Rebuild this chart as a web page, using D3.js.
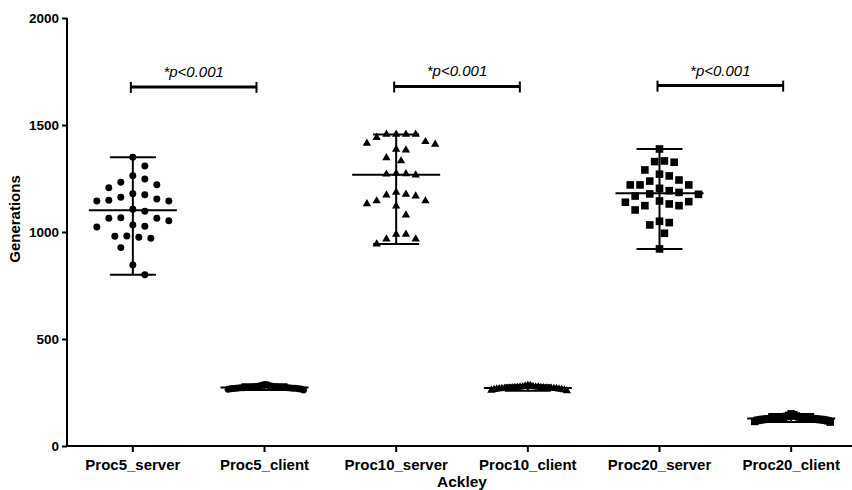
<!DOCTYPE html>
<html>
<body>
    <style>
        body, html { margin: 0; padding: 0; background: #fff; }
        svg { display: block; }
        text { font-family: "Liberation Sans", Arial, sans-serif; fill: #000; }
    </style>

    <svg width="852" height="490"></svg>

    <script src="https://d3js.org/d3.v7.min.js"></script>
    <script>
        // data
        var categories = ["Proc5_server", "Proc5_client", "Proc10_server", "Proc10_client", "Proc20_server", "Proc20_client"];
        var proc5Server = [1349, 1308, 1263, 1248, 1232, 1221, 1207, 1179, 1174, 1162, 1154, 1148, 1145, 1145, 1106,
                           1097, 1067, 1064, 1064, 1053, 1033, 1027, 1023, 981, 980, 975, 971, 927, 846, 800];
        var proc5Client = [262, 265, 266, 268, 268, 269, 270, 270, 270, 271, 271, 272, 272, 272, 273,
                           273, 274, 274, 275, 275, 276, 276, 277, 278, 279, 280, 282, 284, 286, 288];
        var proc10Server = [1456, 1456, 1456, 1456, 1441, 1422, 1414, 1410, 1386, 1383, 1347, 1332, 1274, 1272, 1270,
                            1266, 1185, 1176, 1173, 1168, 1145, 1145, 1132, 1121, 1079, 989, 989, 967, 967, 944];
        var proc10Client = [258, 260, 262, 264, 265, 266, 266, 267, 268, 268, 269, 269, 270, 270, 270,
                            271, 271, 272, 272, 273, 273, 274, 275, 275, 276, 277, 278, 280, 282, 284];
        var proc20Server = [1388, 1332, 1329, 1326, 1290, 1270, 1262, 1243, 1238, 1220, 1220, 1220, 1204, 1193, 1185,
                            1178, 1176, 1168, 1145, 1142, 1139, 1131, 1123, 1123, 1103, 1050, 1044, 1033, 994, 921];
        var proc20Client = [112, 115, 118, 120, 121, 122, 123, 124, 124, 125, 125, 126, 127, 127, 128,
                            128, 129, 130, 130, 131, 132, 133, 134, 135, 136, 138, 140, 143, 146, 150];
        var series = [proc5Server, proc5Client, proc10Server, proc10Client, proc20Server, proc20Client];
        var symbols = [d3.symbolCircle, d3.symbolCircle, d3.symbolTriangle, d3.symbolTriangle, d3.symbolSquare, d3.symbolSquare];
        var symbolSizes = [38, 38, 30, 30, 58, 58];

        var yTicks = [0, 500, 1000, 1500, 2000];
        var comparisons = [["Proc5_server", "Proc5_client"], ["Proc10_server", "Proc10_client"], ["Proc20_server", "Proc20_client"]];
        var compLevels = [1678, 1680, 1684];
        var compLabel = "*p<0.001";

        var svg = d3.select("svg");
        var m = { left: 67, right: 857, top: 18, bottom: 446 };

        var x = d3.scaleBand().domain(categories).range([m.left, m.right]);
        var y = d3.scaleLinear().domain([0, 2000]).range([m.bottom, m.top]);
        var cx = function (c) { return x(c) + x.bandwidth() / 2; };

        // axes
        var yAxis = svg.append("g")
            .attr("transform", "translate(" + m.left + ",0)")
            .call(d3.axisLeft(y).tickValues(yTicks).tickFormat(d3.format("d")).tickSize(5).tickPadding(3));
        var xAxis = svg.append("g")
            .attr("transform", "translate(0," + m.bottom + ")")
            .call(d3.axisBottom(x).tickSize(6).tickPadding(4));

        [yAxis, xAxis].forEach(function (g) {
            g.select(".domain").attr("stroke", "#000").attr("stroke-width", 2);
            g.selectAll(".tick line").attr("stroke", "#000").attr("stroke-width", 2);
            g.selectAll("text").attr("font-family", "Liberation Sans, Arial, sans-serif")
                .attr("font-weight", "bold").attr("fill", "#000");
        });
        yAxis.selectAll("text").attr("font-size", 13.5);
        xAxis.selectAll("text").attr("font-size", 15).attr("dy", "0.9em");
        xAxis.select(".domain").attr("d", "M" + m.left + ",0H" + m.right);
        yAxis.select(".domain").attr("d", "M0," + y(2000) + "V" + m.bottom);

        svg.append("text")
            .attr("transform", "translate(20,219) rotate(-90)")
            .attr("text-anchor", "middle")
            .attr("font-weight", "bold").attr("font-size", 15)
            .text("Generations");

        svg.append("text")
            .attr("x", (m.left + m.right) / 2).attr("y", 487)
            .attr("text-anchor", "middle")
            .attr("font-weight", "bold").attr("font-size", 15.5)
            .text("Ackley");

        // simple swarm layout: points pushed sideways until they no longer touch
        function swarm(values, step, dist, maxHalf) {
            var pts = values.map(function (v) { return { v: v, py: y(v), dx: 0 }; })
                .sort(function (a, b) { return a.py - b.py; });
            var placed = [];
            pts.forEach(function (p) {
                for (var k = 0; k < 200; k++) {
                    var off = (k % 2 ? 1 : -1) * Math.ceil(k / 2) * step;
                    var ok = placed.every(function (q) {
                        var ddx = q.dx - off, ddy = q.py - p.py;
                        return ddx * ddx + ddy * ddy >= dist * dist;
                    });
                    if (ok) { p.dx = off; break; }
                }
                placed.push(p);
            });
            var mx = d3.max(pts, function (p) { return Math.abs(p.dx); });
            if (mx > maxHalf) pts.forEach(function (p) { p.dx = p.dx * maxHalf / mx; });
            return pts;
        }

        var groups = svg.append("g").selectAll("g")
            .data(categories)
            .join("g")
            .attr("transform", function (c) { return "translate(" + cx(c) + ",0)"; });

        groups.each(function (c, i) {
            var g = d3.select(this);
            var vals = series[i];
            var pts = swarm(vals, 6, 12, 39);
            var sym = d3.symbol().type(symbols[i]).size(symbolSizes[i]);

            g.selectAll("path.pt")
                .data(pts)
                .join("path")
                .attr("class", "pt")
                .attr("d", sym)
                .attr("fill", "#000")
                .attr("transform", function (p) { return "translate(" + p.dx + "," + p.py + ")"; });

            // median with range
            var med = d3.median(vals), ext = d3.extent(vals);
            g.append("line").attr("x1", 0).attr("x2", 0).attr("y1", y(ext[0])).attr("y2", y(ext[1]));
            g.append("line").attr("x1", -23).attr("x2", 23).attr("y1", y(ext[0])).attr("y2", y(ext[0]));
            g.append("line").attr("x1", -23).attr("x2", 23).attr("y1", y(ext[1])).attr("y2", y(ext[1]));
            g.append("line").attr("x1", -44).attr("x2", 44).attr("y1", y(med)).attr("y2", y(med));
            g.selectAll("line").attr("stroke", "#000").attr("stroke-width", 2);
        });

        // significance brackets
        var comp = svg.append("g").selectAll("g")
            .data(comparisons)
            .join("g");
        comp.append("line")
            .attr("x1", function (d) { return cx(d[0]) - 2; })
            .attr("x2", function (d) { return cx(d[1]) - 8; })
            .attr("y1", function (d, i) { return y(compLevels[i]); })
            .attr("y2", function (d, i) { return y(compLevels[i]); })
            .attr("stroke", "#000").attr("stroke-width", 3);
        comp.selectAll("line.end")
            .data(function (d, i) { return [[cx(d[0]) - 2, y(compLevels[i])], [cx(d[1]) - 8, y(compLevels[i])]]; })
            .join("line")
            .attr("class", "end")
            .attr("x1", function (d) { return d[0]; }).attr("x2", function (d) { return d[0]; })
            .attr("y1", function (d) { return d[1] - 5; }).attr("y2", function (d) { return d[1] + 6; })
            .attr("stroke", "#000").attr("stroke-width", 2);
        comp.append("text")
            .attr("x", function (d) { return (cx(d[0]) + cx(d[1]) - 10) / 2; })
            .attr("y", function (d, i) { return y(compLevels[i]) - 10; })
            .attr("text-anchor", "middle")
            .attr("font-style", "italic").attr("font-size", 15)
            .text(compLabel);
    </script>
</body>
</html>
